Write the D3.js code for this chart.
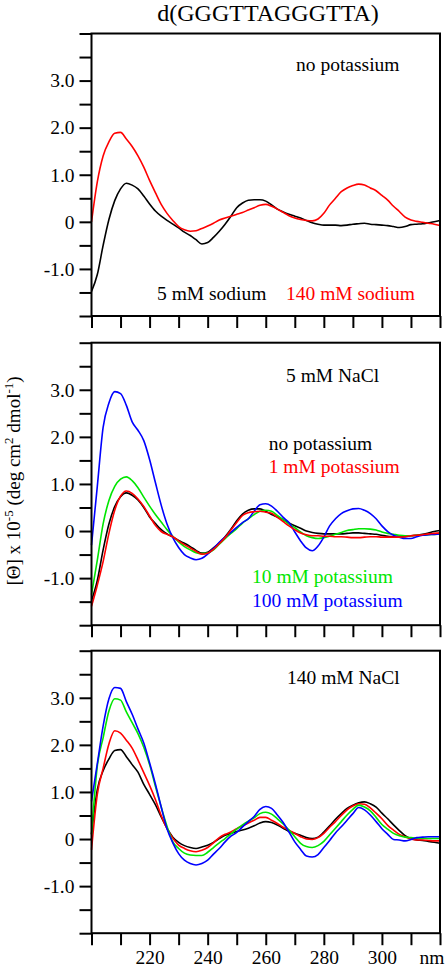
<!DOCTYPE html>
<html><head><meta charset="utf-8">
<script src="https://cdn.jsdelivr.net/npm/d3@7"></script>
<style>
html,body{margin:0;padding:0;background:#fff;}
svg{display:block;}
text{font-family:"Liberation Serif","Times New Roman",serif;}
</style></head>
<body>
<script>
// ---------- DATA ----------
const wavelengths = d3.range(200, 321, 2); // nm
const xTickValues = d3.range(200, 321, 10);
const xTickLabels = ["", "", "220", "", "240", "", "260", "", "280", "", "300", "", "nm"];
const yTickValues = d3.range(-2, 4.01, 0.5);
const yTickLabels = {"3": "3.0", "2": "2.0", "1": "1.0", "0": "0", "-1": "-1.0"};
const title = "d(GGGTTAGGGTTA)";

// Panel 1: no potassium
const p1_5mMNa = [-1.48,-1.12,-0.50,0.05,0.45,0.70,0.82,0.78,0.70,0.55,0.38,0.23,0.12,0.03,-0.05,-0.13,-0.22,-0.29,-0.38,-0.47,-0.44,-0.33,-0.20,-0.05,0.12,0.30,0.40,0.46,0.47,0.47,0.44,0.36,0.27,0.21,0.16,0.12,0.08,0.03,-0.02,-0.05,-0.07,-0.07,-0.07,-0.08,-0.07,-0.05,-0.04,-0.03,-0.05,-0.06,-0.07,-0.08,-0.10,-0.12,-0.10,-0.06,-0.05,-0.04,-0.02,0.00,0.03];
const p1_140mMNa = [0.00,0.85,1.40,1.70,1.88,1.90,1.76,1.60,1.40,1.16,0.88,0.62,0.37,0.18,0.03,-0.10,-0.17,-0.20,-0.19,-0.14,-0.09,-0.03,0.04,0.08,0.12,0.16,0.20,0.25,0.30,0.35,0.37,0.33,0.27,0.20,0.13,0.08,0.05,0.03,0.02,0.06,0.18,0.36,0.50,0.64,0.72,0.77,0.80,0.78,0.72,0.66,0.56,0.46,0.33,0.22,0.10,0.04,0.01,-0.01,-0.03,-0.05,-0.08];

// Panel 2: 5 mM NaCl
const p2_noK = [-1.48,-1.05,-0.40,0.15,0.52,0.73,0.81,0.76,0.66,0.50,0.30,0.16,0.03,-0.06,-0.13,-0.20,-0.26,-0.33,-0.41,-0.47,-0.45,-0.36,-0.25,-0.12,0.04,0.22,0.36,0.44,0.47,0.47,0.42,0.35,0.30,0.24,0.17,0.11,0.06,0.00,-0.03,-0.05,-0.06,-0.06,-0.06,-0.06,-0.05,-0.04,-0.04,-0.05,-0.06,-0.07,-0.09,-0.11,-0.12,-0.13,-0.12,-0.10,-0.09,-0.07,-0.04,-0.01,0.01];
const p2_1mMK = [-1.60,-1.15,-0.65,-0.05,0.44,0.74,0.85,0.80,0.68,0.52,0.32,0.12,-0.01,-0.07,-0.12,-0.21,-0.29,-0.36,-0.43,-0.49,-0.47,-0.39,-0.27,-0.14,0.02,0.18,0.33,0.39,0.41,0.42,0.40,0.38,0.29,0.20,0.11,0.03,-0.04,-0.08,-0.10,-0.10,-0.11,-0.11,-0.12,-0.12,-0.13,-0.14,-0.14,-0.13,-0.12,-0.12,-0.13,-0.13,-0.13,-0.13,-0.12,-0.10,-0.09,-0.08,-0.06,-0.05,-0.04];
const p2_10mMK = [-1.35,-0.62,0.15,0.65,0.95,1.10,1.15,1.07,0.92,0.72,0.53,0.35,0.19,0.03,-0.11,-0.23,-0.33,-0.40,-0.46,-0.48,-0.47,-0.40,-0.28,-0.16,-0.05,0.05,0.17,0.26,0.35,0.42,0.44,0.42,0.33,0.24,0.15,0.07,-0.02,-0.10,-0.14,-0.16,-0.14,-0.11,-0.07,-0.03,0.01,0.03,0.05,0.05,0.04,0.02,-0.02,-0.05,-0.07,-0.09,-0.10,-0.10,-0.09,-0.09,-0.08,-0.07,-0.06];
const p2_100mMK = [-0.30,0.95,2.20,2.72,2.96,2.92,2.67,2.32,2.14,1.92,1.52,1.03,0.55,0.15,-0.14,-0.35,-0.50,-0.57,-0.61,-0.58,-0.49,-0.37,-0.24,-0.13,-0.03,0.08,0.18,0.26,0.42,0.56,0.58,0.53,0.42,0.29,0.18,-0.02,-0.21,-0.36,-0.42,-0.32,-0.13,0.11,0.26,0.37,0.43,0.47,0.48,0.44,0.37,0.26,0.11,-0.01,-0.09,-0.13,-0.16,-0.16,-0.12,-0.09,-0.08,-0.07,-0.06];

// Panel 3: 140 mM NaCl
const p3_noK = [0.10,1.05,1.45,1.70,1.88,1.90,1.75,1.58,1.42,1.16,0.95,0.73,0.47,0.23,0.04,-0.07,-0.14,-0.18,-0.20,-0.17,-0.13,-0.07,0.01,0.08,0.12,0.16,0.19,0.23,0.28,0.34,0.37,0.35,0.30,0.23,0.16,0.12,0.08,0.03,0.01,0.04,0.15,0.28,0.42,0.54,0.65,0.72,0.77,0.79,0.75,0.68,0.55,0.43,0.30,0.18,0.07,0.01,-0.02,-0.03,-0.05,-0.07,-0.09];
const p3_1mMK = [-0.23,0.95,1.50,2.02,2.30,2.25,2.10,1.93,1.68,1.41,1.14,0.84,0.50,0.22,0.02,-0.13,-0.20,-0.25,-0.27,-0.24,-0.18,-0.08,0.03,0.10,0.15,0.22,0.28,0.34,0.40,0.46,0.46,0.40,0.33,0.25,0.19,0.12,0.05,0.00,-0.01,0.03,0.12,0.25,0.37,0.50,0.62,0.70,0.75,0.74,0.66,0.55,0.43,0.29,0.19,0.10,0.05,0.00,-0.02,-0.02,-0.03,-0.04,-0.04];
const p3_10mMK = [0.10,1.55,2.15,2.72,2.98,2.95,2.70,2.47,2.24,1.95,1.58,1.12,0.68,0.27,-0.06,-0.20,-0.30,-0.34,-0.35,-0.35,-0.28,-0.18,-0.08,0.01,0.11,0.21,0.30,0.38,0.45,0.54,0.57,0.53,0.43,0.32,0.19,0.05,-0.09,-0.16,-0.18,-0.14,-0.05,0.09,0.23,0.37,0.51,0.63,0.72,0.68,0.60,0.46,0.31,0.21,0.12,0.07,0.04,0.03,0.02,0.02,0.01,0.01,0.01];
const p3_100mMK = [0.80,1.60,2.40,2.98,3.22,3.20,2.92,2.65,2.34,2.04,1.62,1.17,0.68,0.22,-0.08,-0.31,-0.45,-0.52,-0.55,-0.52,-0.45,-0.32,-0.20,-0.06,0.06,0.14,0.26,0.37,0.48,0.63,0.69,0.65,0.51,0.35,0.15,-0.06,-0.22,-0.36,-0.38,-0.33,-0.18,-0.03,0.13,0.26,0.40,0.54,0.67,0.62,0.51,0.37,0.22,0.10,-0.01,-0.02,-0.04,-0.01,0.03,0.04,0.05,0.05,0.05];

const seriesColors = {black:"#000000", red:"#ff0000", green:"#00e600", blue:"#0000ff"};

const panels = [
  {series:[{v:p1_5mMNa,c:"black"},{v:p1_140mMNa,c:"red"}],
   notes:[{t:"no potassium",x:296,y:71,c:"black"},{t:"5 mM sodium",x:157,y:300,c:"black"},{t:"140 mM sodium",x:286,y:300,c:"red"}]},
  {series:[{v:p2_noK,c:"black"},{v:p2_10mMK,c:"green"},{v:p2_100mMK,c:"blue"},{v:p2_1mMK,c:"red"}],
   notes:[{t:"5 mM NaCl",x:286,y:382,c:"black"},{t:"no potassium",x:268.7,y:450,c:"black"},{t:"1 mM potassium",x:268.7,y:473,c:"red"},{t:"10 mM potassium",x:252,y:583,c:"green"},{t:"100 mM potassium",x:252,y:607,c:"blue"}]},
  {series:[{v:p3_noK,c:"black"},{v:p3_1mMK,c:"red"},{v:p3_10mMK,c:"green"},{v:p3_100mMK,c:"blue"}],
   notes:[{t:"140 mM NaCl",x:287,y:684,c:"black"}]}
];

// ---------- LAYOUT ----------
const W = 445, H = 967;
const left = 91.5, right = 440;
const panelTops = [33.5, 342.7, 650.7];
const panelH = 282.5;
const tickLen = 12;
const txtSize = 19.5;

const svg = d3.select("body").append("svg").attr("width", W).attr("height", H);

const x = d3.scaleLinear().domain([200, 320]).range([left, right]);

svg.append("text").attr("x", 268).attr("y", 21).attr("text-anchor", "middle")
  .attr("font-size", 24).text(title);

panels.forEach((p, i) => {
  const top = panelTops[i], bottom = top + panelH;
  const y = d3.scaleLinear().domain([-2, 4]).range([bottom, top]);
  const g = svg.append("g");

  const line = d3.line().x((d, j) => x(wavelengths[j])).y(d => y(d)).curve(d3.curveMonotoneX);
  p.series.forEach(s => {
    g.append("path").datum(s.v).attr("d", line).attr("fill", "none")
      .attr("stroke", seriesColors[s.c]).attr("stroke-width", 1.6).attr("stroke-linejoin", "round");
  });

  g.append("rect").attr("x", left).attr("y", top).attr("width", right - left).attr("height", panelH)
    .attr("fill", "none").attr("stroke", "#000").attr("stroke-width", 2);

  const yAxis = d3.axisLeft(y).tickValues(yTickValues).tickSize(tickLen).tickPadding(5)
    .tickFormat(d => { const k = String(Math.round(d * 10) / 10); return yTickLabels[k] || ""; });
  const ya = g.append("g").attr("transform", `translate(${left},0)`).call(yAxis);
  ya.select(".domain").remove();
  ya.selectAll(".tick line").attr("stroke", "#000").attr("stroke-width", 2);
  ya.selectAll(".tick text").attr("font-size", txtSize).attr("font-family", '"Liberation Serif", serif').attr("fill", "#000");

  const xAxis = d3.axisBottom(x).tickValues(xTickValues).tickSize(tickLen).tickPadding(5)
    .tickFormat((d, j) => i === 2 ? xTickLabels[j] : "");
  const xa = g.append("g").attr("transform", `translate(0,${bottom})`).call(xAxis);
  xa.select(".domain").remove();
  xa.selectAll(".tick line").attr("stroke", "#000").attr("stroke-width", 2);
  xa.selectAll(".tick text").attr("font-size", txtSize).attr("font-family", '"Liberation Serif", serif').attr("fill", "#000");
  xa.selectAll(".tick text").filter(d => d === 320).attr("text-anchor", "end").attr("dx", 4);

  p.notes.forEach(n => {
    g.append("text").attr("x", n.x).attr("y", n.y).attr("font-size", txtSize)
      .attr("fill", seriesColors[n.c]).text(n.t);
  });
});

const yt = svg.append("text").attr("transform", "translate(20,481) rotate(-90)")
  .attr("text-anchor", "middle").attr("font-size", 19);
yt.append("tspan").text("[\u0398] x 10");
yt.append("tspan").attr("dy", -7).attr("font-size", 13).text("-5");
yt.append("tspan").attr("dy", 7).text(" (deg cm");
yt.append("tspan").attr("dy", -7).attr("font-size", 13).text("2");
yt.append("tspan").attr("dy", 7).text(" dmol");
yt.append("tspan").attr("dy", -7).attr("font-size", 13).text("-1");
yt.append("tspan").attr("dy", 7).text(")");
</script>
</body></html>
